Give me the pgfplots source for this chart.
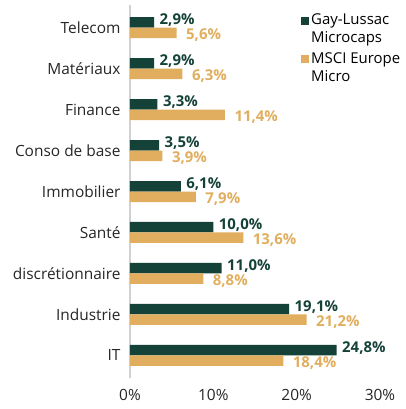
\documentclass[border=0pt]{standalone}
\usepackage{pgfplots}
\pgfplotsset{compat=1.18}
\usepackage{fontspec}
\setmainfont{Open Sans}
\definecolor{glgreen}{RGB}{21,66,56}
\definecolor{msgold}{RGB}{224,174,94}

\begin{document}
\begin{tikzpicture}
\begin{axis}[
  xbar, scale only axis, width=250bp, height=373bp,
  xmin=0, xmax=30, ymin=-0.55, ymax=8.55, y dir=reverse,
  ytick={0,...,8},
  yticklabels={Telecom,Matériaux,Finance,Conso de base,Immobilier,Santé,discrétionnaire,Industrie,IT},
  xtick={0,10,20,30}, xticklabels={0\%,10\%,20\%,30\%},
  axis lines*=left, x axis line style={draw=none},
  y axis line style={draw=black!18, line width=1.2pt},
  major tick length=0, clip=false,
  bar width=10.5bp,
  tick label style={font=\fontsize{15.5}{17}\selectfont, text=black!85},
  yticklabel style={xshift=-6bp},
  xticklabel style={yshift=-8bp},
  point meta=x,
  nodes near coords={\pgfmathprintnumber[fixed,fixed zerofill,precision=1,use comma,assume math mode=true]{\pgfplotspointmeta}\%},
  legend style={at={(0.672,0.987)}, anchor=north west, draw=none, fill=none,
    font=\fontsize{15}{18}\selectfont, cells={align=left}, row sep=4bp},
  legend cell align=left,
]
\addplot[fill=glgreen, draw=none, bar shift=5.25bp,
  legend image code/.code={\fill[glgreen] (0bp,4bp) rectangle (8bp,12bp);},
  every node near coord/.append style={text=glgreen, font=\fontsize{15}{17}\selectfont\bfseries, anchor=west, xshift=2bp, yshift=2bp}]
  coordinates {(2.9,0) (2.9,1) (3.3,2) (3.5,3) (6.1,4) (10.0,5) (11.0,6) (19.1,7) (24.8,8)};
\addlegendentry{Gay-Lussac\\Microcaps}
\addplot[fill=msgold, draw=none, bar shift=-5.25bp,
  legend image code/.code={\fill[msgold] (0bp,4bp) rectangle (8bp,12bp);},
  every node near coord/.append style={text=msgold, font=\fontsize{15}{17}\selectfont\bfseries, anchor=west, xshift=6bp, yshift=-2bp}]
  coordinates {(5.6,0) (6.3,1) (11.4,2) (3.9,3) (7.9,4) (13.6,5) (8.8,6) (21.2,7) (18.4,8)};
\addlegendentry{MSCI Europe\\Micro}
\coordinate (sw) at (axis description cs:0,0);
\coordinate (ne) at (axis description cs:1,1);
\end{axis}
\pgfresetboundingbox
\path[use as bounding box] ([shift={(-130bp,-31bp)}]sw) rectangle ([shift={(26bp,5bp)}]ne);
\end{tikzpicture}
\end{document}
